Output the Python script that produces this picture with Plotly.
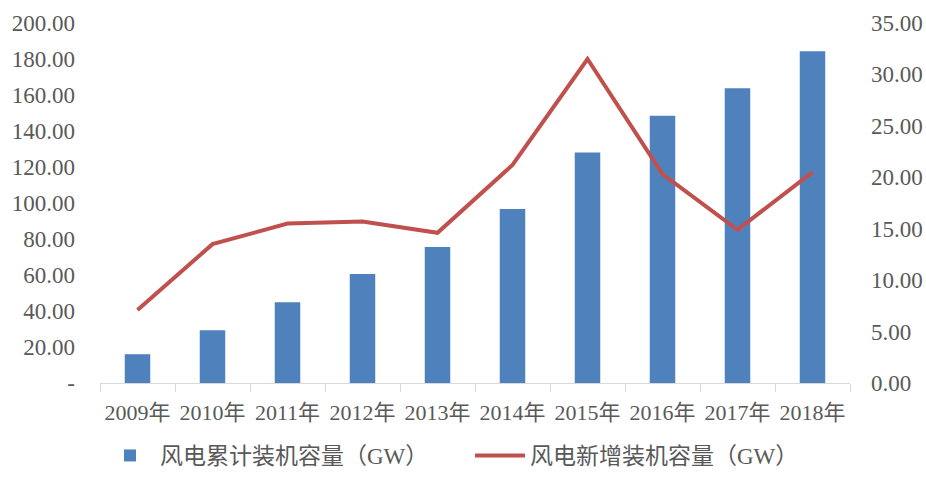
import plotly.graph_objects as go

years = ["2009年", "2010年", "2011年", "2012年", "2013年", "2014年", "2015年", "2016年", "2017年", "2018年"]
cumulative = [16.0, 29.3, 44.8, 60.5, 75.5, 96.6, 128.0, 148.5, 163.7, 184.3]
new_added = [7.1, 13.5, 15.5, 15.7, 14.6, 21.2, 31.5, 20.3, 14.9, 20.5]

left_vals = [0, 20, 40, 60, 80, 100, 120, 140, 160, 180, 200]
left_text = ["-"] + [f"{v:.2f}" for v in left_vals[1:]]
right_vals = [0, 5, 10, 15, 20, 25, 30, 35]
right_text = [f"{v:.2f}" for v in right_vals]

FONT = "Times New Roman, Liberation Serif, Noto Sans CJK SC, serif"
GRAY = "#595959"
FS = 23

fig = go.Figure()
fig.add_trace(go.Bar(
    x=years, y=cumulative, name="风电累计装机容量（GW）",
    marker=dict(color="#4F81BD", line=dict(width=0)), yaxis="y"))
fig.add_trace(go.Scatter(
    x=years, y=new_added, name="风电新增装机容量（GW）", mode="lines",
    line=dict(color="#C0504D", width=4), yaxis="y2"))

fig.update_layout(
    width=926, height=477,
    margin=dict(l=100, r=76, t=23, b=94, autoexpand=False),
    plot_bgcolor="white", paper_bgcolor="white",
    font=dict(family=FONT, size=FS, color=GRAY),
    bargap=0.66,
    showlegend=True,
    legend=dict(orientation="h", x=0.0, xanchor="left",
                yref="container", y=0.0, yanchor="bottom",
                entrywidth=305, itemwidth=50, font=dict(size=FS, color=GRAY)),
    xaxis=dict(type="category", showline=True, linecolor="#D9D9D9", linewidth=1,
               ticks="outside", tickson="boundaries", ticklen=8, tickcolor="#D9D9D9",
               showgrid=False, tickangle=0, ticklabelstandoff=10, automargin=False,
               tickfont=dict(size=22, color=GRAY)),
    yaxis=dict(range=[0, 200], tickvals=left_vals, ticktext=left_text, showgrid=False,
               zeroline=False, showline=False, ticks="", ticklabelstandoff=24,
               automargin=False, tickfont=dict(size=FS, color=GRAY)),
    yaxis2=dict(range=[0, 35], tickvals=right_vals, ticktext=right_text, overlaying="y",
                side="right", showgrid=False, zeroline=False, showline=False, ticks="",
                ticklabelstandoff=20, automargin=False, tickfont=dict(size=FS, color=GRAY)),
)

fig.write_html("out.html")
